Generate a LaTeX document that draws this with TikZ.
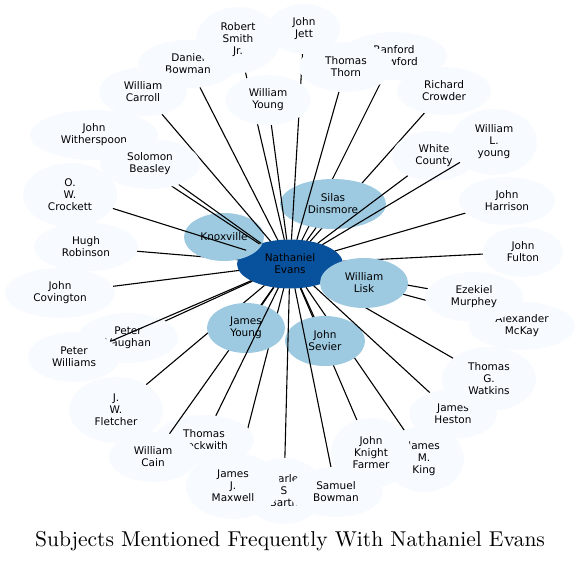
\documentclass[tikz,border=0pt]{standalone}
\usepackage{fontspec}
\newfontfamily\nodefont{DejaVu Sans}
\newfontfamily\titlefont{lmroman10-regular}[Extension=.otf]
\usetikzlibrary{shapes.geometric}
\definecolor{darkc}{HTML}{08519C}
\definecolor{midc}{HTML}{9ECAE1}
\definecolor{lightc}{HTML}{F7FBFF}
\tikzset{
  ghost/.style={ellipse, inner sep=0pt, outer sep=0pt},
  vis/.style={ellipse, inner sep=0pt, outer sep=0pt, align=center,
    font=\nodefont\fontsize{10.5}{12}\selectfont, text=black},
  lt/.style={vis, fill=lightc},
  md/.style={vis, fill=midc},
  dk/.style={vis, fill=darkc},
  conn/.style={line width=1.1pt, black}
}
\newcommand{\gh}[5]{\node[ghost, minimum width=#4pt, minimum height=#5pt] (#1) at (#2,#3) {};%
  \expandafter\xdef\csname nw#1\endcsname{#4}\expandafter\xdef\csname nh#1\endcsname{#5}}
\newcommand{\sh}[3]{\node[#2, minimum width=\csname nw#1\endcsname pt,
  minimum height=\csname nh#1\endcsname pt] (v#1) at (#1.center) {#3};}
\newcommand{\cn}[1]{\draw[conn] (ctr) -- (#1);}
\begin{document}
\begin{tikzpicture}[x=1pt, y=-1pt]
\useasboundingbox (0,0) rectangle (581,562);
% node geometry (invisible shapes used for connector clipping)
\gh{ctr}{290}{264}{106}{49}
\gh{kx}{224}{237}{80}{48}
\gh{sd}{333}{204}{106}{50}
\gh{wl}{364}{283}{88}{50}
\gh{jy}{246}{328}{78}{50}
\gh{js}{325}{341}{80}{50}
\gh{rs}{238}{40}{84}{66}
\gh{jj}{304}{29}{72}{50}
\gh{db}{188}{64}{100}{48}
\gh{wc}{143}{92}{88}{49}
\gh{wy}{268}{100}{86}{50}
\gh{tt}{346}{67}{94}{50}
\gh{rc}{394}{56}{106}{48}
\gh{rcw}{444}{91}{94}{48}
\gh{wcty}{434}{156}{84}{50}
\gh{wly}{494}{142}{86}{66}
\gh{jh}{507}{201}{96}{48}
\gh{jf}{523}{252}{80}{50}
\gh{em}{474}{297}{98}{50}
\gh{am}{522}{326}{106}{48}
\gh{tw}{489}{379}{94}{64}
\gh{jhst}{453}{414}{88}{50}
\gh{jmk}{424}{459}{80}{66}
\gh{jkf}{371}{453}{80}{70}
\gh{sb}{336}{492}{94}{50}
\gh{csb}{284}{491}{80}{66}
\gh{jjm}{233}{486}{94}{66}
\gh{tb}{204}{440}{100}{50}
\gh{wcn}{153}{457}{88}{50}
\gh{jwf}{116}{410}{94}{66}
\gh{pw}{74}{357}{92}{50}
\gh{pv}{128}{338}{100}{50}
\gh{jc}{60}{293}{110}{50}
\gh{hr}{86}{247}{104}{49}
\gh{owc}{70}{195}{94}{64}
\gh{jw}{94}{135}{128}{50}
\gh{sbs}{150}{164}{100}{50}
% drawing in stacking order
\sh{ctr}{dk}{Nathaniel\\Evans}
\cn{hr}
\sh{kx}{md}{Knoxville}
\cn{jwf}\cn{jkf}\cn{jmk}\cn{rc}\cn{em}\cn{am}\cn{jf}\cn{tw}\cn{rs}\cn{jjm}\cn{jw}\cn{rcw}
\sh{tb}{lt}{Thomas\\Beckwith}
\cn{wcn}
\sh{jy}{md}{James\\Young}
\sh{js}{md}{John\\Sevier}
\sh{sd}{md}{Silas\\Dinsmore}
\cn{jj}\cn{tt}\cn{tb}\cn{csb}\cn{sb}\cn{sbs}\cn{owc}\cn{wc}\cn{db}\cn{wy}\cn{wcty}
\cn{jh}\cn{jhst}\cn{jc}\cn{pv}\cn{jy}\cn{js}\cn{sd}
\sh{db}{lt}{Daniel\\Bowman}
\sh{rs}{lt}{Robert\\Smith\\Jr.}
\sh{jj}{lt}{John\\Jett}
\sh{rc}{lt}{Ranford\\Crawford}
\sh{tt}{lt}{Thomas\\Thorn}
\sh{wy}{lt}{William\\Young}
\sh{wc}{lt}{William\\Carroll}
\sh{rcw}{lt}{Richard\\Crowder}
\sh{wcty}{lt}{White\\County}
\cn{wly}
\sh{wly}{lt}{William\\L.\\young}
\sh{jh}{lt}{John\\Harrison}
\sh{jf}{lt}{John\\Fulton}
\sh{am}{lt}{Alexander\\McKay}
\sh{em}{lt}{Ezekiel\\Murphey}
\sh{jhst}{lt}{James\\Heston}
\sh{tw}{lt}{Thomas\\G.\\Watkins}
\sh{jmk}{lt}{James\\M.\\King}
\sh{jkf}{lt}{John\\Knight\\Farmer}
\sh{csb}{lt}{Charles\\S\\Barth}
\sh{sb}{lt}{Samuel\\Bowman}
\sh{jjm}{lt}{James\\J.\\Maxwell}
\sh{wcn}{lt}{William\\Cain}
\sh{jwf}{lt}{J.\\W.\\Fletcher}
\sh{pv}{lt}{Peter\\Vaughan}
\cn{pw}
\sh{pw}{lt}{Peter\\Williams}
\sh{jc}{lt}{John\\Covington}
\sh{hr}{lt}{Hugh\\Robinson}
\sh{owc}{lt}{O.\\W.\\Crockett}
\sh{jw}{lt}{John\\Witherspoon}
\sh{sbs}{lt}{Solomon\\Beasley}
\sh{wl}{md}{William\\Lisk}
\node[font=\titlefont\fontsize{21.5}{25}\selectfont, anchor=base, inner sep=0pt] (title) at (290,546)
  {Subjects Mentioned Frequently With Nathaniel Evans};
\end{tikzpicture}
\end{document}
